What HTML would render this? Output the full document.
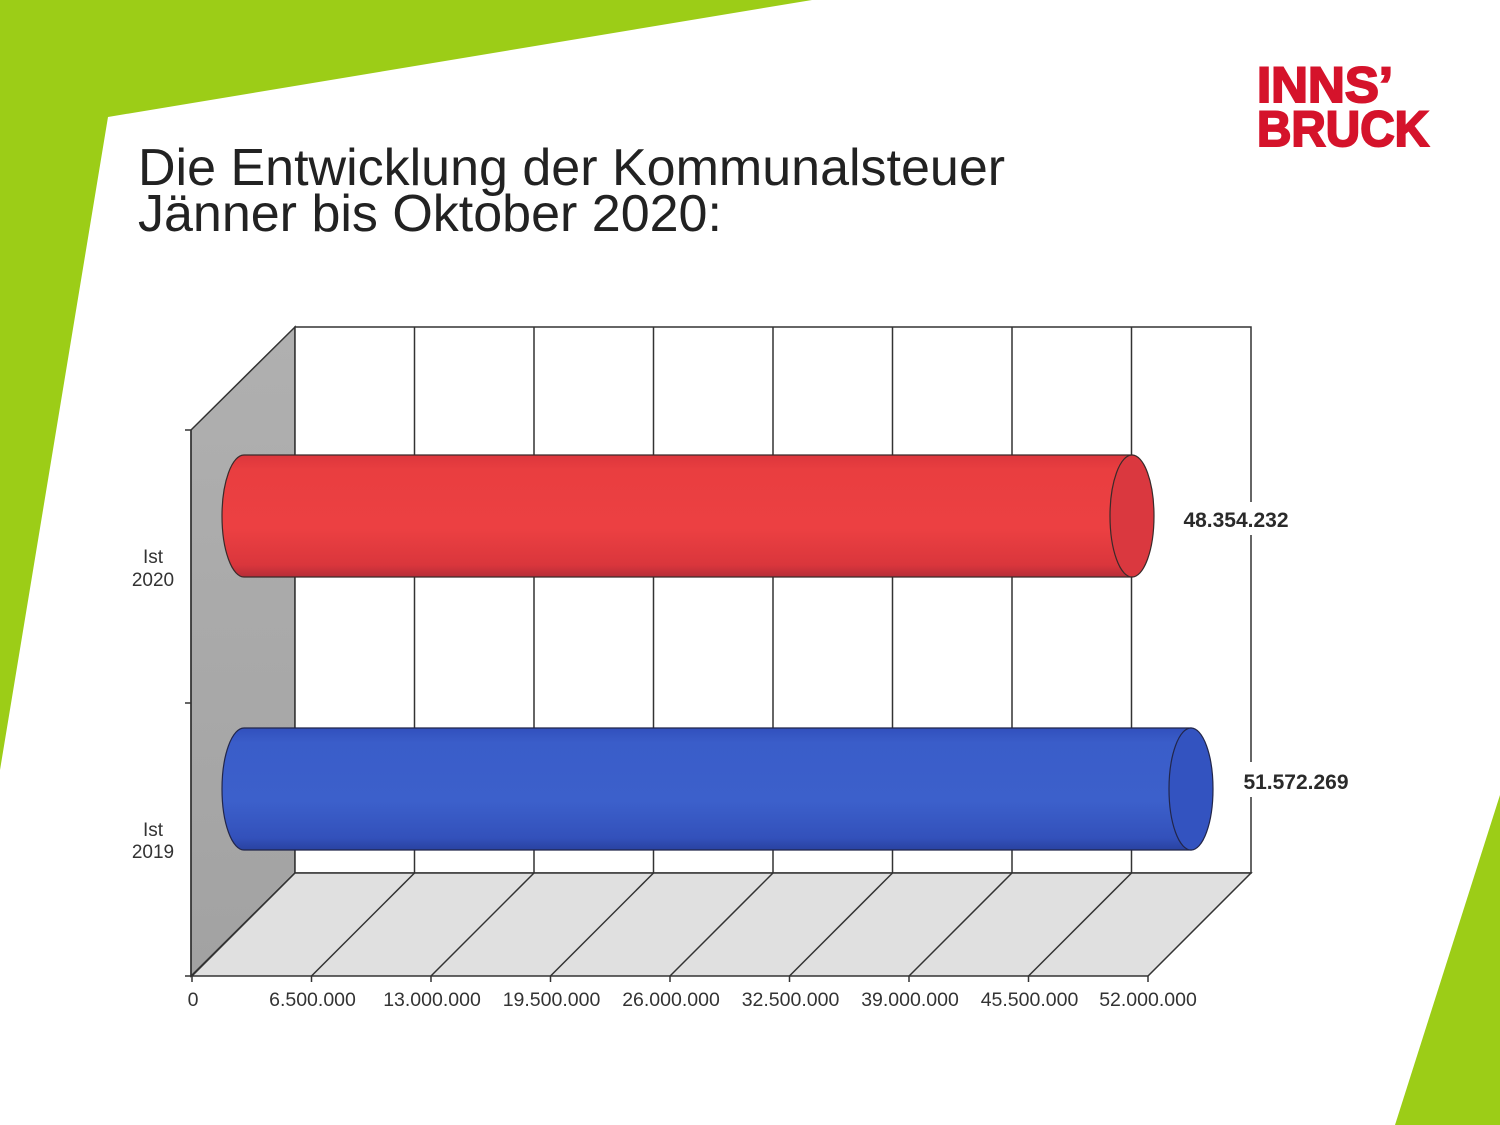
<!DOCTYPE html>
<html>
<head>
<meta charset="utf-8">
<style>
  html, body { margin: 0; padding: 0; background: #ffffff; }
  svg { display: block; }
</style>
</head>
<body>
<svg width="1500" height="1125" viewBox="0 0 1500 1125" xmlns="http://www.w3.org/2000/svg">
  <defs>
    <linearGradient id="red" x1="0" y1="0" x2="0" y2="1">
      <stop offset="0" stop-color="#dc363c"/>
      <stop offset="0.12" stop-color="#e93e40"/>
      <stop offset="0.6" stop-color="#ec4042"/>
      <stop offset="0.9" stop-color="#da363c"/>
      <stop offset="1" stop-color="#b52d38"/>
    </linearGradient>
    <linearGradient id="blue" x1="0" y1="0" x2="0" y2="1">
      <stop offset="0" stop-color="#3150bd"/>
      <stop offset="0.12" stop-color="#3a5dc9"/>
      <stop offset="0.6" stop-color="#3c60cb"/>
      <stop offset="0.9" stop-color="#3351bb"/>
      <stop offset="1" stop-color="#2942a0"/>
    </linearGradient>
    <linearGradient id="wall" x1="0" y1="0" x2="0" y2="1">
      <stop offset="0" stop-color="#b0b0b0"/>
      <stop offset="1" stop-color="#a2a2a2"/>
    </linearGradient>
  </defs>

  <!-- green decorations -->
  <polygon points="0,0 812,0 108,117 0,770" fill="#9ccd17"/>
  <polygon points="1500,795 1500,1125 1395,1125" fill="#9ccd17"/>

  <!-- logo -->
  <g font-family="Liberation Sans, Arial, sans-serif" font-weight="bold" fill="#d5132b" stroke="#d5132b" stroke-width="2">
    <text x="1257" y="102" font-size="50" textLength="136" lengthAdjust="spacingAndGlyphs">INNS’</text>
    <text x="1257" y="146" font-size="50" textLength="172" lengthAdjust="spacingAndGlyphs">BRUCK</text>
  </g>

  <!-- title -->
  <g font-family="Liberation Sans, Arial, sans-serif" font-size="52" fill="#222222">
    <text x="138" y="185">Die Entwicklung der Kommunalsteuer</text>
    <text x="138" y="231">Jänner bis Oktober 2020:</text>
  </g>

  <!-- chart: left wall -->
  <polygon points="191,430 295,327 295,873 191,976" fill="url(#wall)" stroke="#333" stroke-width="1.5"/>
  <!-- back wall -->
  <rect x="295" y="327" width="956" height="546" fill="#ffffff" stroke="#333" stroke-width="1.5"/>
  <!-- back gridlines -->
  <g stroke="#333" stroke-width="1.5">
    <line x1="414.5" y1="327" x2="414.5" y2="873"/>
    <line x1="534" y1="327" x2="534" y2="873"/>
    <line x1="653.5" y1="327" x2="653.5" y2="873"/>
    <line x1="773" y1="327" x2="773" y2="873"/>
    <line x1="892.5" y1="327" x2="892.5" y2="873"/>
    <line x1="1012" y1="327" x2="1012" y2="873"/>
    <line x1="1131.5" y1="327" x2="1131.5" y2="873"/>
  </g>
  <!-- floor -->
  <polygon points="192,976 1148,976 1251,873 295,873" fill="#e0e0e0" stroke="#333" stroke-width="1.5"/>
  <g stroke="#333" stroke-width="1.5">
    <line x1="414.5" y1="873" x2="311.5" y2="976"/>
    <line x1="534" y1="873" x2="431" y2="976"/>
    <line x1="653.5" y1="873" x2="550.5" y2="976"/>
    <line x1="773" y1="873" x2="670" y2="976"/>
    <line x1="892.5" y1="873" x2="789.5" y2="976"/>
    <line x1="1012" y1="873" x2="909" y2="976"/>
    <line x1="1131.5" y1="873" x2="1028.5" y2="976"/>
    <!-- axis ticks -->
    <line x1="192" y1="976" x2="192" y2="982"/>
    <line x1="311.5" y1="976" x2="311.5" y2="982"/>
    <line x1="431" y1="976" x2="431" y2="982"/>
    <line x1="550.5" y1="976" x2="550.5" y2="982"/>
    <line x1="670" y1="976" x2="670" y2="982"/>
    <line x1="789.5" y1="976" x2="789.5" y2="982"/>
    <line x1="909" y1="976" x2="909" y2="982"/>
    <line x1="1028.5" y1="976" x2="1028.5" y2="982"/>
    <line x1="1148" y1="976" x2="1148" y2="982"/>
    <!-- y axis -->
    <line x1="191" y1="430" x2="191" y2="976"/>
    <line x1="185" y1="430" x2="191" y2="430"/>
    <line x1="185" y1="703" x2="191" y2="703"/>
    <line x1="185" y1="976" x2="191" y2="976"/>
  </g>

  <!-- red cylinder -->
  <path d="M1132,455 L244,455 A22,61 0 0 0 244,577 L1132,577 Z" fill="url(#red)" stroke="#3a2a2a" stroke-width="1.2"/>
  <ellipse cx="1132" cy="516" rx="22" ry="61" fill="#da383f" stroke="#3a2a2a" stroke-width="1.2"/>

  <!-- blue cylinder -->
  <path d="M1191,728 L244,728 A22,61 0 0 0 244,850 L1191,850 Z" fill="url(#blue)" stroke="#22264a" stroke-width="1.2"/>
  <ellipse cx="1191" cy="789" rx="22" ry="61" fill="#3353c0" stroke="#22264a" stroke-width="1.2"/>

  <!-- value labels -->
  <rect x="1176" y="502" width="120" height="33" fill="#ffffff"/>
  <rect x="1236" y="762" width="120" height="35" fill="#ffffff"/>
  <g font-family="Liberation Sans, Arial, sans-serif" font-weight="bold" font-size="21" fill="#2a2a2a" text-anchor="middle">
    <text x="1236" y="527">48.354.232</text>
    <text x="1296" y="789">51.572.269</text>
  </g>

  <!-- category labels -->
  <g font-family="Liberation Sans, Arial, sans-serif" font-size="19" fill="#333" text-anchor="middle">
    <text x="153" y="563">Ist</text>
    <text x="153" y="586">2020</text>
    <text x="153" y="836">Ist</text>
    <text x="153" y="858">2019</text>
  </g>

  <!-- x tick labels -->
  <g font-family="Liberation Sans, Arial, sans-serif" font-size="19.5" fill="#333" text-anchor="middle">
    <text x="193" y="1006">0</text>
    <text x="312.5" y="1006">6.500.000</text>
    <text x="432" y="1006">13.000.000</text>
    <text x="551.5" y="1006">19.500.000</text>
    <text x="671" y="1006">26.000.000</text>
    <text x="790.5" y="1006">32.500.000</text>
    <text x="910" y="1006">39.000.000</text>
    <text x="1029.5" y="1006">45.500.000</text>
    <text x="1148" y="1006">52.000.000</text>
  </g>
</svg>
</body>
</html>
